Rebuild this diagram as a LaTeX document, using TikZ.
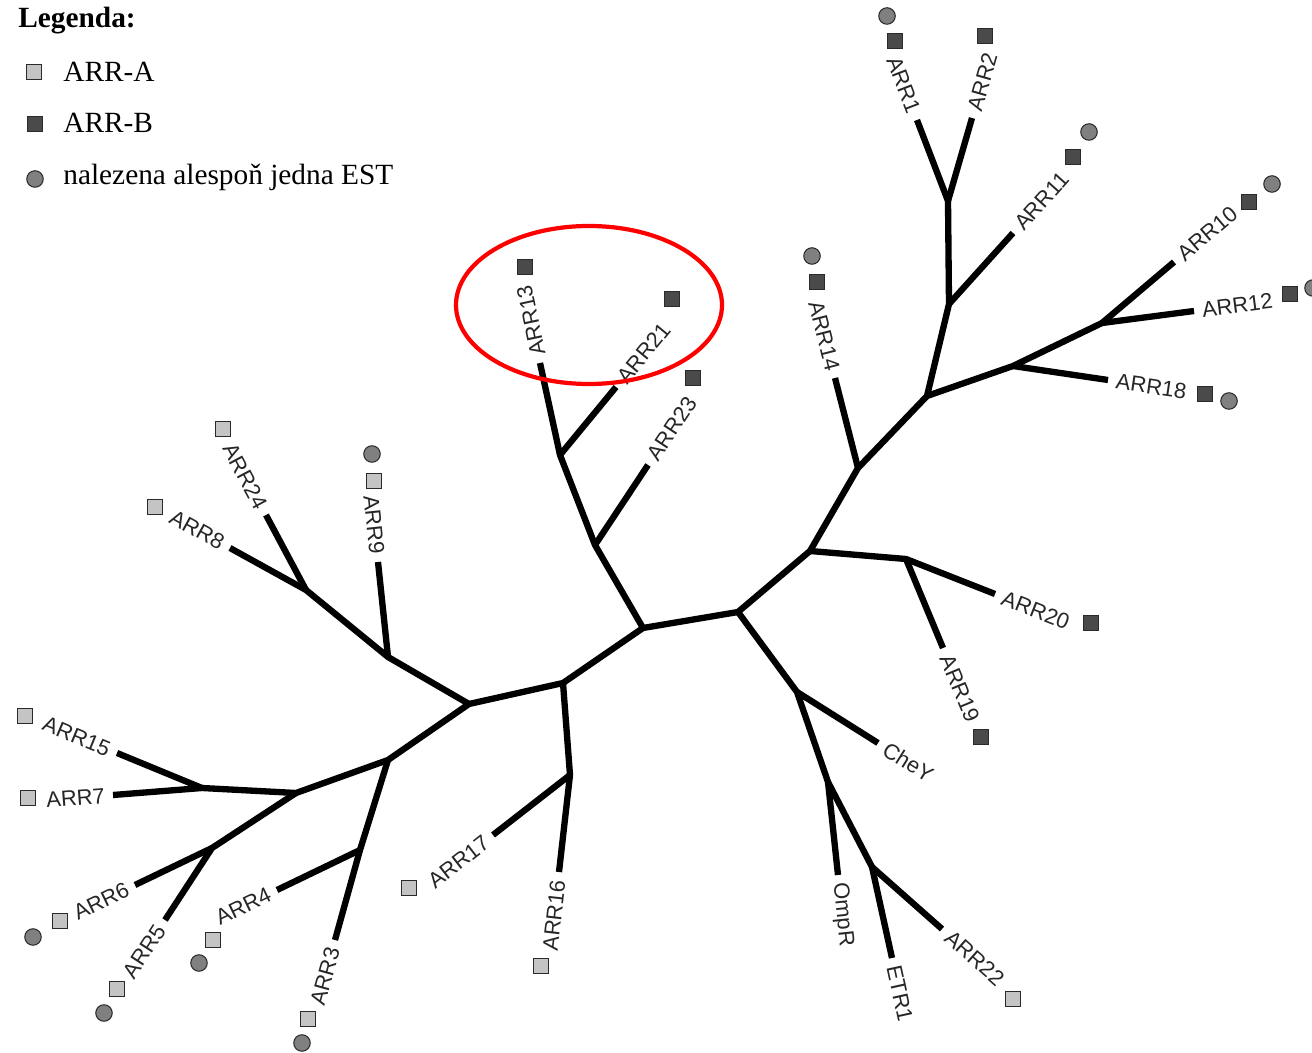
\documentclass[tikz,border=0pt]{standalone}
\usepackage{fontspec}
\setmainfont{Liberation Serif}
\newfontfamily\treefont{Liberation Sans}
\usepackage{tikz}
\usetikzlibrary{positioning}
\definecolor{arrAgray}{HTML}{C4C4C4}
\definecolor{arrBgray}{HTML}{4A4A4A}
\definecolor{estgray}{HTML}{808080}
\definecolor{markline}{HTML}{2A2A2A}
\tikzset{
  branch/.style = {line width=3.6pt, black},
  lbl/.style = {font=\treefont\fontsize{12.5}{14}\selectfont, text=black!85,
    inner sep=0.5pt},% popisek genu
  lbl_w/.style = {lbl, anchor=west, rotate=#1, xshift=4pt},
  lbl_e/.style = {lbl, anchor=east, rotate=#1, xshift=-4pt},
  mark_a/.style = {rectangle, draw=markline, fill=arrAgray, line width=0.6pt,
    minimum size=8.8pt, inner sep=0pt},% ARR-A
  mark_b/.style = {mark_a, fill=arrBgray},% ARR-B
  mark_e/.style = {circle, draw=markline, fill=estgray, line width=0.6pt,
    minimum size=9.4pt, inner sep=0pt},% EST
  legtext/.style = {font=\fontsize{16.7}{18}\selectfont, anchor=base west,
    inner sep=0pt},
  hilite/.style = {draw=red, line width=2.4pt}
}

\begin{document}
\begin{tikzpicture}[x=0.02cm, y=-0.02cm]
\useasboundingbox (0,0) rectangle (1312,1053);

% legenda
\node[legtext, font=\fontsize{16.7}{18}\selectfont\bfseries] (leg) at (18,28) {Legenda:};
\node[mark_a] (legA) at (34,72) {};
\node[legtext] (legAt) at (63,82) {ARR-A};
\node[mark_b] (legB) at (35,124) {};
\node[legtext] (legBt) at (63,133) {ARR-B};
\node[mark_e] (legE) at (35,179) {};
\node[legtext] (legEt) at (63,185) {nalezena alespoň jedna EST};

% vnitrni uzly
\coordinate (c1) at (643,628);
\coordinate (c2) at (738,612);
\coordinate (a1) at (595,545);
\coordinate (a2) at (560,455);
\coordinate (l1) at (563,683);
\coordinate (l2) at (469,704);
\coordinate (n16) at (570,775);
\coordinate (n9) at (388,657);
\coordinate (n24) at (306,590);
\coordinate (n3) at (388,760);
\coordinate (n4) at (360,850);
\coordinate (n7) at (296,793);
\coordinate (n15) at (202,788);
\coordinate (n5) at (212,848);
\coordinate (r1) at (810,551);
\coordinate (r2) at (858,468);
\coordinate (r3) at (927,396);
\coordinate (r4) at (949,304);
\coordinate (r5) at (948,201);
\coordinate (r6) at (1013,366);
\coordinate (r7) at (1102,323);
\coordinate (r8) at (906,559);
\coordinate (d1) at (797,692);
\coordinate (d2) at (828,782);
\coordinate (d3) at (872,867);

% konce vetvi
\coordinate (e1) at (917,120);
\coordinate (e2) at (972,118);
\coordinate (e3) at (335,940);
\coordinate (e4) at (277,890);
\coordinate (e5) at (165,920);
\coordinate (e6) at (135,885);
\coordinate (e7) at (113,795);
\coordinate (e8) at (230,548);
\coordinate (e9) at (378,562);
\coordinate (e10) at (1174,262);
\coordinate (e11) at (1013,233);
\coordinate (e12) at (1194,311);
\coordinate (e13) at (540,363);
\coordinate (e14) at (835,378);
\coordinate (e15) at (117,753);
\coordinate (e16) at (559,872);
\coordinate (e17) at (493,835);
\coordinate (e18) at (1108,380);
\coordinate (e19) at (943,648);
\coordinate (e20) at (995,594);
\coordinate (e21) at (616,387);
\coordinate (e22) at (942,929);
\coordinate (e23) at (648,465);
\coordinate (e24) at (266,515);
\coordinate (eChe) at (878,743);
\coordinate (eOmp) at (838,875);
\coordinate (eEtr) at (892,958);

% vetve
\draw[branch] (e13) -- (a2) -- (a1) -- (c1) -- (c2) -- (r1) -- (r2) -- (r3)
  -- (r4) -- (r5) -- (e1);
\draw[branch] (r5) -- (e2);
\draw[branch] (a2) -- (e21);
\draw[branch] (a1) -- (e23);
\draw[branch] (c1) -- (l1) -- (l2) -- (n3) -- (n7) -- (n15) -- (e7);
\draw[branch] (n15) -- (e15);
\draw[branch] (n7) -- (n5) -- (e5);
\draw[branch] (n5) -- (e6);
\draw[branch] (n3) -- (n4) -- (e3);
\draw[branch] (n4) -- (e4);
\draw[branch] (l2) -- (n9) -- (n24) -- (e8);
\draw[branch] (n24) -- (e24);
\draw[branch] (n9) -- (e9);
\draw[branch] (l1) -- (n16) -- (e16);
\draw[branch] (n16) -- (e17);
\draw[branch] (r2) -- (e14);
\draw[branch] (r4) -- (e11);
\draw[branch] (r3) -- (r6) -- (r7) -- (e12);
\draw[branch] (r7) -- (e10);
\draw[branch] (r6) -- (e18);
\draw[branch] (r1) -- (r8) -- (e20);
\draw[branch] (r8) -- (e19);
\draw[branch] (c2) -- (d1) -- (d2) -- (d3) -- (eEtr);
\draw[branch] (d3) -- (e22);
\draw[branch] (d2) -- (eOmp);
\draw[branch] (d1) -- (eChe);

% popisky
\node[lbl_e=-69] (t1) at (e1) {ARR1};
\node[lbl_w=74] (t2) at (e2) {ARR2};
\node[lbl_e=74.5] (t3) at (e3) {ARR3};
\node[lbl_e=25.7] (t4) at (e4) {ARR4};
\node[lbl_e=57] (t5) at (e5) {ARR5};
\node[lbl_e=25.7] (t6) at (e6) {ARR6};
\node[lbl_e=4.5] (t7) at (e7) {ARR7};
\node[lbl_e=-29] (t8) at (e8) {ARR8};
\node[lbl_e=-84] (t9) at (e9) {ARR9};
\node[lbl_w=40.3] (t10) at (e10) {ARR10};
\node[lbl_w=48] (t11) at (e11) {ARR11};
\node[lbl_w=7.4] (t12) at (e12) {ARR12};
\node[lbl_w=102] (t13) at (e13) {ARR13};
\node[lbl_e=-75.7] (t14) at (e14) {ARR14};
\node[lbl_e=-22.4] (t15) at (e15) {ARR15};
\node[lbl_e=83.5] (t16) at (e16) {ARR16};
\node[lbl_e=37.9] (t17) at (e17) {ARR17};
\node[lbl_w=-8.4] (t18) at (e18) {ARR18};
\node[lbl_w=-67.4] (t19) at (e19) {ARR19};
\node[lbl_w=-21.5] (t20) at (e20) {ARR20};
\node[lbl_w=50.5] (t21) at (e21) {ARR21};
\node[lbl_w=-41.5] (t22) at (e22) {ARR22};
\node[lbl_w=56.5] (t23) at (e23) {ARR23};
\node[lbl_e=-62] (t24) at (e24) {ARR24};
\node[lbl_w=-32.2] (tChe) at (eChe) {CheY};
\node[lbl_w=-84] (tOmp) at (eOmp) {OmpR};
\node[lbl_w=-77.6] (tEtr) at (eEtr) {ETR1};

% znacky
\node[mark_e] (m1e) at (887,16) {};
\node[mark_b] (m1) at (895,41) {};
\node[mark_b] (m2) at (985,36) {};
\node[mark_a] (m3) at (308,1019) {};
\node[mark_e] (m3e) at (302,1043) {};
\node[mark_a] (m4) at (213,940) {};
\node[mark_e] (m4e) at (199,963) {};
\node[mark_a] (m5) at (117,989) {};
\node[mark_e] (m5e) at (104,1013) {};
\node[mark_a] (m6) at (60,921) {};
\node[mark_e] (m6e) at (33,937) {};
\node[mark_a] (m7) at (28,798) {};
\node[mark_a] (m8) at (155,507) {};
\node[mark_a] (m9) at (374,481) {};
\node[mark_e] (m9e) at (372,454) {};
\node[mark_b] (m10) at (1249,202) {};
\node[mark_e] (m10e) at (1272,184) {};
\node[mark_b] (m11) at (1073,157) {};
\node[mark_e] (m11e) at (1089,132) {};
\node[mark_b] (m12) at (1290,294) {};
\node[mark_e] (m12e) at (1313,288) {};
\node[mark_b] (m13) at (525,267) {};
\node[mark_b] (m14) at (817,282) {};
\node[mark_e] (m14e) at (812,256) {};
\node[mark_a] (m15) at (25,716) {};
\node[mark_a] (m16) at (541,966) {};
\node[mark_a] (m17) at (409,888) {};
\node[mark_b] (m18) at (1205,394) {};
\node[mark_e] (m18e) at (1229,401) {};
\node[mark_b] (m19) at (981,737) {};
\node[mark_b] (m20) at (1091,623) {};
\node[mark_b] (m21) at (672,299) {};
\node[mark_a] (m22) at (1013,999) {};
\node[mark_b] (m23) at (693,378) {};
\node[mark_a] (m24) at (223,429) {};

% zvyrazneni
\draw[hilite] (589,305) ellipse [x radius=133, y radius=79];
\end{tikzpicture}
\end{document}
